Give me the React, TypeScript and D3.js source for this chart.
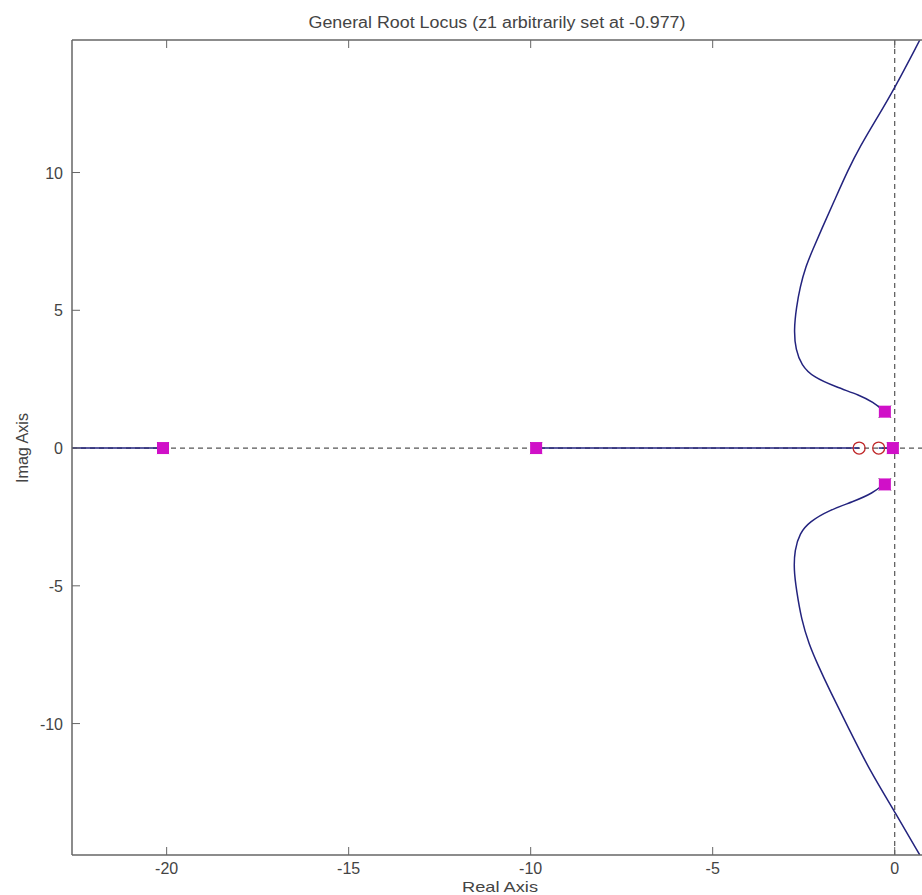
import React, {useEffect, useRef} from 'react';
import * as d3 from 'd3';

const WIDTH = 922;
const HEIGHT = 895;
const TITLE = 'General Root Locus (z1 arbitrarily set at -0.977)';

const X_TICKS = [-20, -15, -10, -5, 0];
const Y_TICKS = [-10, -5, 0, 5, 10];

// open-loop poles (real, imag)
const POLES: [number, number][] = [
    [-20.1, 0], [-9.85, 0], [-0.05, 0], [-0.27, 1.32], [-0.27, -1.32],
];
// zeros
const ZEROS: [number, number][] = [[-0.977, 0], [-0.44, 0]];

// real-axis locus segments
const REAL_SEGMENTS: [number, number][] = [[-22.6, -20.1], [-9.85, -0.977], [-0.44, -0.05]];

// complex branches
const UPPER_BRANCH: [number, number][] = [
    [-0.27, 1.32], [-0.6, 1.67], [-0.96, 1.92], [-1.6, 2.21], [-2.25, 2.58], [-2.56, 3.01],
    [-2.72, 3.56], [-2.77, 4.28], [-2.7, 5.12], [-2.6, 5.84], [-2.45, 6.57], [-2.25, 7.2],
    [-2.02, 7.91], [-1.65, 9.0], [-1.28, 10.1], [-0.95, 10.95], [-0.5, 11.95], [-0.03, 12.99],
    [0.69, 14.81],
];
const LOWER_BRANCH: [number, number][] = [
    [-0.27, -1.28], [-0.6, -1.64], [-1.15, -1.95], [-1.79, -2.25], [-2.34, -2.67], [-2.61, -3.09],
    [-2.75, -3.7], [-2.77, -4.43], [-2.7, -5.15], [-2.56, -6.24], [-2.36, -7.1], [-2.1, -7.9],
    [-1.79, -8.78], [-1.24, -10.24], [-0.69, -11.69], [0, -13.2], [0.69, -14.77],
];

const margin = {top: 40, left: 72, bottom: 855};

export default function App() {
    const svgRef = useRef<SVGSVGElement>(null);

    useEffect(() => {
        const svg = d3.select(svgRef.current);
        svg.selectAll('*').remove();

        const x = d3.scaleLinear().domain([-22.6, 0.75]).range([margin.left, WIDTH]);
        const y = d3.scaleLinear().domain([-14.77, 14.81]).range([margin.bottom, margin.top]);

        svg.append('rect').attr('width', WIDTH).attr('height', HEIGHT).attr('fill', 'white');

        const plot = svg.append('g');
        plot.append('defs').append('clipPath').attr('id', 'plot-clip')
            .append('rect')
            .attr('x', margin.left).attr('y', margin.top)
            .attr('width', WIDTH - margin.left).attr('height', margin.bottom - margin.top);

        const inner = plot.append('g').attr('clip-path', 'url(#plot-clip)');

        // dashed zero lines
        inner.append('line')
            .attr('x1', margin.left).attr('x2', WIDTH)
            .attr('y1', y(0)).attr('y2', y(0))
            .attr('stroke', '#555').attr('stroke-width', 1.2).attr('stroke-dasharray', '5,4');
        inner.append('line')
            .attr('x1', x(0)).attr('x2', x(0))
            .attr('y1', margin.top).attr('y2', margin.bottom)
            .attr('stroke', '#555').attr('stroke-width', 1.2).attr('stroke-dasharray', '5,4');

        const line = d3.line<[number, number]>()
            .x(d => x(d[0]))
            .y(d => y(d[1]))
            .curve(d3.curveBasis);

        const locusColor = '#23237e';

        REAL_SEGMENTS.forEach(([a, b]) => {
            inner.append('line')
                .attr('x1', x(a)).attr('x2', x(b))
                .attr('y1', y(0)).attr('y2', y(0))
                .attr('stroke', locusColor).attr('stroke-width', 1.5);
        });

        [UPPER_BRANCH, LOWER_BRANCH].forEach(branch => {
            inner.append('path')
                .attr('d', line(branch))
                .attr('fill', 'none')
                .attr('stroke', locusColor)
                .attr('stroke-width', 1.5);
        });

        // zeros
        inner.selectAll('circle.zero').data(ZEROS).enter()
            .append('circle')
            .attr('cx', d => x(d[0])).attr('cy', d => y(d[1])).attr('r', 6)
            .attr('fill', 'none').attr('stroke', '#c0282a').attr('stroke-width', 1.3);

        // pole x markers under squares
        POLES.forEach(([re, im]) => {
            const px = x(re), py = y(im), s = 6;
            inner.append('path')
                .attr('d', `M${px - s},${py - s}L${px + s},${py + s}M${px - s},${py + s}L${px + s},${py - s}`)
                .attr('stroke', '#333').attr('stroke-width', 1);
        });

        // poles squares
        inner.selectAll('rect.pole').data(POLES).enter()
            .append('rect')
            .attr('x', d => x(d[0]) - 6).attr('y', d => y(d[1]) - 6)
            .attr('width', 12).attr('height', 12)
            .attr('fill', '#d010c8');

        // axes frame
        const axisColor = '#666';
        plot.append('line')
            .attr('x1', margin.left).attr('x2', WIDTH).attr('y1', margin.top).attr('y2', margin.top)
            .attr('stroke', axisColor).attr('stroke-width', 1.5);
        plot.append('line')
            .attr('x1', margin.left).attr('x2', WIDTH).attr('y1', margin.bottom).attr('y2', margin.bottom)
            .attr('stroke', axisColor).attr('stroke-width', 1.5);
        plot.append('line')
            .attr('x1', margin.left).attr('x2', margin.left).attr('y1', margin.top).attr('y2', margin.bottom)
            .attr('stroke', axisColor).attr('stroke-width', 1.5);

        const font = 'Liberation Sans, Arial, sans-serif';
        const textColor = '#444';
        const tickLen = 8;

        X_TICKS.forEach(t => {
            plot.append('line')
                .attr('x1', x(t)).attr('x2', x(t))
                .attr('y1', margin.bottom).attr('y2', margin.bottom - tickLen)
                .attr('stroke', axisColor);
            plot.append('line')
                .attr('x1', x(t)).attr('x2', x(t))
                .attr('y1', margin.top).attr('y2', margin.top + tickLen)
                .attr('stroke', axisColor);
            plot.append('text')
                .attr('x', x(t)).attr('y', margin.bottom + 19)
                .attr('text-anchor', 'middle')
                .attr('font-family', font).attr('font-size', 16).attr('fill', textColor)
                .text(String(t));
        });

        Y_TICKS.forEach(t => {
            plot.append('line')
                .attr('x1', margin.left).attr('x2', margin.left + tickLen)
                .attr('y1', y(t)).attr('y2', y(t))
                .attr('stroke', axisColor);
            plot.append('text')
                .attr('x', margin.left - 9).attr('y', y(t) + 6)
                .attr('text-anchor', 'end')
                .attr('font-family', font).attr('font-size', 16).attr('fill', textColor)
                .text(String(t));
        });

        svg.append('text')
            .attr('x', 497).attr('y', 28)
            .attr('text-anchor', 'middle')
            .attr('font-family', font).attr('font-size', 16).attr('fill', textColor)
            .attr('textLength', 377).attr('lengthAdjust', 'spacingAndGlyphs')
            .text(TITLE);

        svg.append('text')
            .attr('x', 500).attr('y', 892)
            .attr('text-anchor', 'middle')
            .attr('font-family', font).attr('font-size', 15).attr('fill', textColor)
            .attr('textLength', 76).attr('lengthAdjust', 'spacingAndGlyphs')
            .text('Real Axis');

        svg.append('text')
            .attr('transform', `translate(28,${y(0)}) rotate(-90)`)
            .attr('text-anchor', 'middle')
            .attr('font-family', font).attr('font-size', 16).attr('fill', textColor)
            .attr('textLength', 70).attr('lengthAdjust', 'spacingAndGlyphs')
            .text('Imag Axis');
    }, []);

    return (
        <svg
            ref={svgRef}
            width={WIDTH}
            height={HEIGHT}
            style={{position: 'absolute', left: 0, top: 0, display: 'block'}}
        />
    );
}
